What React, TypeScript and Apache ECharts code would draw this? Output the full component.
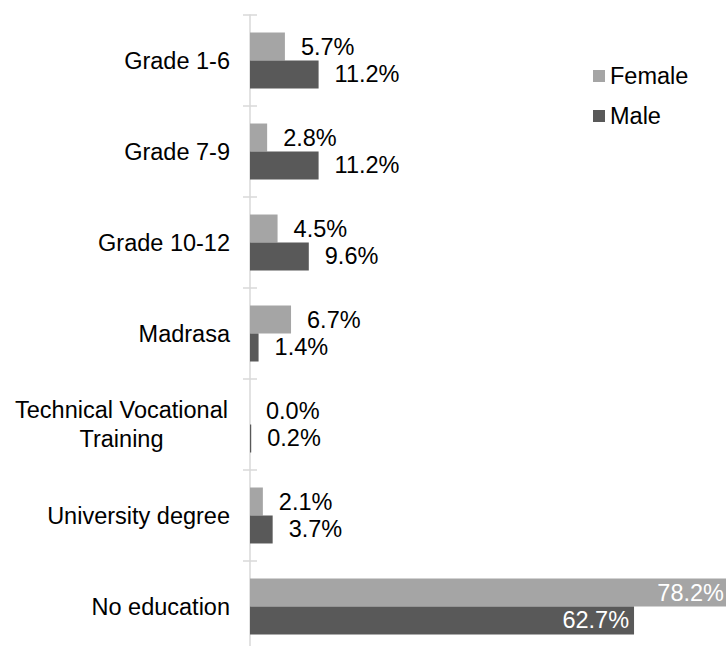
import React, { useEffect, useRef } from "react";
import * as echarts from "echarts";

const categories = [
  "Grade 1-6",
  "Grade 7-9",
  "Grade 10-12",
  "Madrasa",
  "Technical Vocational\nTraining",
  "University degree",
  "No education",
];
const femaleValues = [5.7, 2.8, 4.5, 6.7, 0.0, 2.1, 78.2];
const maleValues = [11.2, 11.2, 9.6, 1.4, 0.2, 3.7, 62.7];
const seriesNames = ["Female", "Male"];

const FONT = 'Arial, "Liberation Sans", sans-serif';
const FS = 23.5;

export default function App() {
  const ref = useRef<HTMLDivElement>(null);
  useEffect(() => {
    if (!ref.current) return;
    const chart = echarts.init(ref.current, null, { renderer: "svg" });
    const lastIdx = categories.length - 1;
    const mkData = (vals: number[]) =>
      vals.map((v, i) =>
        i === lastIdx
          ? {
              value: v,
              label: { position: "insideRight", color: "#ffffff", distance: 5 },
            }
          : { value: v }
      );
    const labelBase = {
      show: true,
      position: "right",
      distance: 16,
      color: "#000000",
      fontSize: FS,
      fontFamily: FONT,
      formatter: (p: any) => `${Number(p.value).toFixed(1)}%`,
    };
    chart.setOption({
      animation: false,
      textStyle: { fontFamily: FONT },
      legend: {
        orient: "vertical",
        left: 588,
        top: 59,
        itemWidth: 12,
        itemHeight: 12,
        itemGap: 16,
        icon: "rect",
        textStyle: { fontSize: FS, fontFamily: FONT, color: "#000000" },
        data: seriesNames,
      },
      grid: {
        left: 250,
        top: 15,
        width: 490,
        height: 637,
        containLabel: false,
        outerBoundsMode: "none",
      },
      xAxis: {
        type: "value",
        min: 0,
        max: 80,
        show: false,
      },
      yAxis: [
        {
          type: "category",
          data: categories,
          inverse: true,
          axisLine: { show: true, lineStyle: { color: "#D9D9D9", width: 1.5 } },
          axisTick: { show: true, length: 7, lineStyle: { color: "#D9D9D9", width: 1.5 } },
          axisLabel: {
            margin: 20,
            fontSize: FS,
            fontFamily: FONT,
            color: "#000000",
            formatter: (v: string) =>
              v.indexOf("\n") >= 0
                ? v
                    .split("\n")
                    .map((s) => `{c|${s}}`)
                    .join("\n")
                : v,
            rich: {
              c: {
                width: 217,
                align: "center",
                fontSize: FS,
                fontFamily: FONT,
                color: "#000000",
                lineHeight: 29,
              },
            },
          },
          splitLine: { show: false },
        },
        {
          type: "category",
          data: categories,
          inverse: true,
          position: "left",
          axisLine: { show: false },
          axisTick: { show: true, inside: true, length: 7, lineStyle: { color: "#D9D9D9", width: 1.5 } },
          axisLabel: { show: false },
          splitLine: { show: false },
        },
      ],
      series: [
        {
          name: seriesNames[0],
          type: "bar",
          yAxisIndex: 0,
          data: mkData(femaleValues),
          itemStyle: { color: "#A5A5A5" },
          barGap: "0%",
          barCategoryGap: "38.5%",
          label: labelBase,
        },
        {
          name: seriesNames[1],
          type: "bar",
          yAxisIndex: 0,
          data: mkData(maleValues),
          itemStyle: { color: "#595959" },
          barGap: "0%",
          barCategoryGap: "38.5%",
          label: labelBase,
        },
      ],
    });
    return () => chart.dispose();
  }, []);
  return (
    <div
      ref={ref}
      style={{ position: "fixed", left: 0, top: 0, width: 726, height: 646, background: "#ffffff" }}
    />
  );
}
